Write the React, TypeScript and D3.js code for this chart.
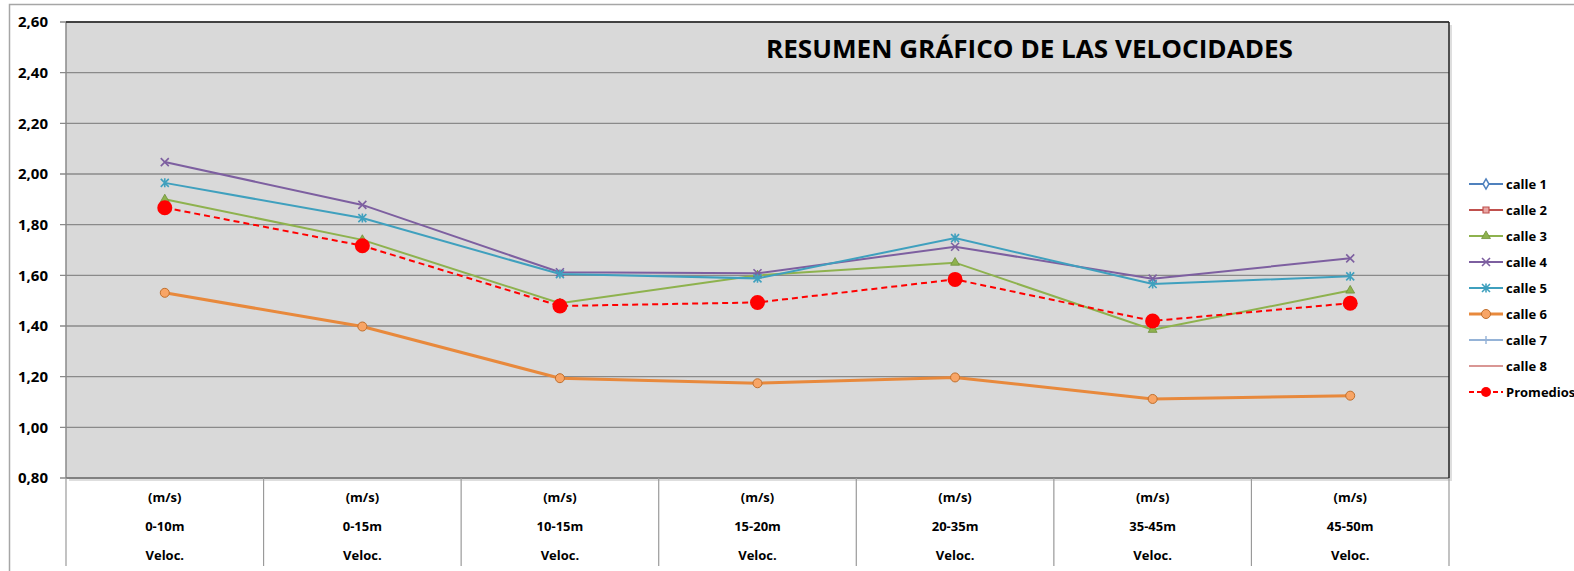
import React from 'react';
import * as d3 from 'd3';

// data
const categories = ['0-10m', '0-15m', '10-15m', '15-20m', '20-35m', '35-45m', '45-50m'];
const yTicks = [0.8, 1.0, 1.2, 1.4, 1.6, 1.8, 2.0, 2.2, 2.4, 2.6];

const calle1: number[] = [];
const calle2: number[] = [];
const calle3 = [1.9, 1.74, 1.49, 1.6, 1.65, 1.385, 1.54];
const calle4 = [2.047, 1.878, 1.612, 1.608, 1.713, 1.587, 1.667];
const calle5 = [1.965, 1.826, 1.605, 1.588, 1.747, 1.566, 1.596];
const calle6 = [1.531, 1.398, 1.194, 1.174, 1.197, 1.112, 1.125];
const calle7: number[] = [];
const calle8: number[] = [];
const promedios = [1.867, 1.717, 1.479, 1.493, 1.584, 1.42, 1.49];

const seriesList = [
  { name: 'calle 1', values: calle1, color: '#4F81BD', marker: 'diamond', width: 2 },
  { name: 'calle 2', values: calle2, color: '#C0504D', marker: 'square', width: 2 },
  { name: 'calle 3', values: calle3, color: '#8EB24E', marker: 'triangle', width: 2 },
  { name: 'calle 4', values: calle4, color: '#7D5FA0', marker: 'x', width: 2 },
  { name: 'calle 5', values: calle5, color: '#3FA0BE', marker: 'star', width: 2 },
  { name: 'calle 6', values: calle6, color: '#E8893C', marker: 'circle', width: 3 },
  { name: 'calle 7', values: calle7, color: '#95B3D7', marker: 'plus', width: 2 },
  { name: 'calle 8', values: calle8, color: '#D99694', marker: 'dash', width: 2 },
  { name: 'Promedios', values: promedios, color: '#FF0000', marker: 'bigcircle', width: 2, dashed: true },
];

const W = 1574, H = 571;
const plot = { left: 66, top: 22, right: 1449, bottom: 478 };
const FONT = '"Open Sans", "Liberation Sans", sans-serif';

function Marker({ type, x, y, color }: { type: string; x: number; y: number; color: string }) {
  const t = `translate(${x},${y})`;
  if (type === 'diamond')
    return <path transform={t} d={d3.symbol(d3.symbolDiamond, 30)()!} fill="#fff" stroke={color} strokeWidth={1.5} />;
  if (type === 'square')
    return <path transform={t} d={d3.symbol(d3.symbolSquare, 36)()!} fill="#e8a6a4" stroke={color} strokeWidth={1.2} />;
  if (type === 'triangle')
    return <path transform={t} d={d3.symbol(d3.symbolTriangle, 34)()!} fill={color} stroke="#6f8f3a" strokeWidth={0.8} />;
  if (type === 'x')
    return <path transform={t} d="M-4,-4L4,4M-4,4L4,-4" stroke={color} strokeWidth={1.6} fill="none" />;
  if (type === 'star')
    return <path transform={t} d="M-4,-4L4,4M-4,4L4,-4M0,-4.5L0,4.5" stroke={color} strokeWidth={1.6} fill="none" />;
  if (type === 'circle')
    return <circle cx={x} cy={y} r={4.5} fill="#F8A566" stroke="#C06F2C" strokeWidth={1} />;
  if (type === 'plus')
    return <path transform={t} d="M0,-4L0,4M-3,0L3,0" stroke={color} strokeWidth={1.4} fill="none" />;
  if (type === 'dash')
    return <path transform={t} d="M-3,0L3,0" stroke={color} strokeWidth={2} fill="none" />;
  if (type === 'bigcircle') return <circle cx={x} cy={y} r={7.5} fill="#FF0000" />;
  return null;
}

export default function App() {
  const x = d3.scaleBand<string>().domain(categories).range([plot.left, plot.right]);
  const y = d3.scaleLinear().domain([0.8, 2.6]).range([plot.bottom, plot.top]);
  const cx = (c: string) => (x(c) as number) + x.bandwidth() / 2;

  const line = d3
    .line<number>()
    .x((_, i) => cx(categories[i]))
    .y(d => y(d));

  const legendY = d3.scalePoint<string>().domain(seriesList.map(s => s.name)).range([184, 392]);

  return (
    <svg width={W} height={H} style={{ position: 'absolute', left: 0, top: 0, background: '#fff' }} fontFamily={FONT}>
      {/* chart area border */}
      <path d={`M9.5,${H + 2}L9.5,4.5L${W + 2},4.5`} fill="none" stroke="#a6a6a6" strokeWidth={1.5} />

      {/* plot shadow */}
      <rect x={plot.left + 3} y={plot.top + 3} width={plot.right - plot.left} height={plot.bottom - plot.top} fill="#c8c8c8" opacity={0.6} />
      <rect x={plot.left} y={plot.top} width={plot.right - plot.left} height={plot.bottom - plot.top} fill="#D9D9D9" />

      {/* grid */}
      {yTicks.map(t => (
        <g key={t}>
          <line x1={plot.left - 6} x2={plot.right} y1={y(t)} y2={y(t)} stroke="#8a8a8a" strokeWidth={1.3} />
          <text x={48} y={y(t)} dy="0.35em" textAnchor="end" fontSize={15} fontWeight="bold" fill="#000">
            {t.toFixed(2).replace('.', ',')}
          </text>
        </g>
      ))}

      {/* plot border */}
      <line x1={plot.left} x2={plot.left} y1={plot.top} y2={plot.bottom} stroke="#8a8a8a" strokeWidth={1.5} />
      <line x1={plot.left} x2={plot.right} y1={plot.bottom} y2={plot.bottom} stroke="#777" strokeWidth={1.5} />
      <line x1={plot.left} x2={plot.right} y1={plot.top} y2={plot.top} stroke="#222" strokeWidth={1.5} />
      <line x1={plot.right} x2={plot.right} y1={plot.top} y2={plot.bottom} stroke="#222" strokeWidth={1.5} />

      {/* category axis */}
      {d3.range(categories.length + 1).map(i => {
        const xx = plot.left + i * x.bandwidth();
        return <line key={i} x1={xx} x2={xx} y1={plot.bottom} y2={566} stroke="#9a9a9a" strokeWidth={1.2} />;
      })}
      {categories.map(c => (
        <g key={c} fontSize={13} fontWeight="bold" textAnchor="middle" fill="#000">
          <text x={cx(c)} y={497} dy="0.35em">(m/s)</text>
          <text x={cx(c)} y={526} dy="0.35em">{c}</text>
          <text x={cx(c)} y={555} dy="0.35em">Veloc.</text>
        </g>
      ))}

      {/* title */}
      <text x={766} y={58} fontSize={25} fontWeight="bold" fill="#000" textLength={527} lengthAdjust="spacingAndGlyphs">
        RESUMEN GRÁFICO DE LAS VELOCIDADES
      </text>

      {/* series */}
      {seriesList.map(s =>
        s.values.length ? (
          <g key={s.name}>
            <path
              d={line(s.values)!}
              fill="none"
              stroke={s.color}
              strokeWidth={s.width}
              strokeDasharray={s.dashed ? '6,4' : undefined}
            />
            {s.values.map((v, i) => (
              <Marker key={i} type={s.marker} x={cx(categories[i])} y={y(v)} color={s.color} />
            ))}
          </g>
        ) : null
      )}

      {/* legend */}
      {seriesList.map(s => {
        const ly = legendY(s.name) as number;
        return (
          <g key={s.name}>
            <line
              x1={1469}
              x2={1503}
              y1={ly}
              y2={ly}
              stroke={s.color}
              strokeWidth={s.width}
              strokeDasharray={s.dashed ? '5,3' : undefined}
            />
            <Marker type={s.marker === 'bigcircle' ? 'smallred' : s.marker} x={1486} y={ly} color={s.color} />
            {s.marker === 'bigcircle' && <circle cx={1486} cy={ly} r={5} fill="#FF0000" />}
            <text x={1506} y={ly} dy="0.35em" fontSize={13} fontWeight="bold" fill="#000">
              {s.name}
            </text>
          </g>
        );
      })}
    </svg>
  );
}
